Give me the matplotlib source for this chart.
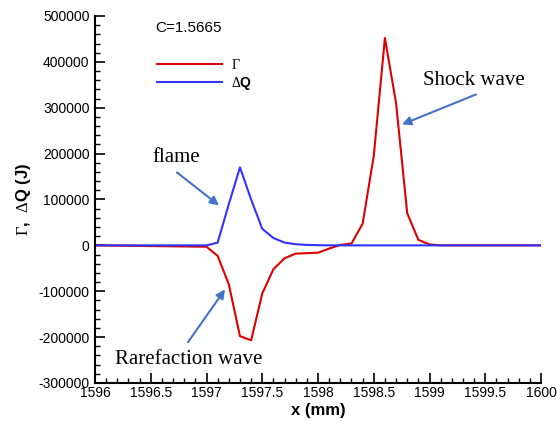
import matplotlib
matplotlib.use("Agg")
import matplotlib.pyplot as plt
from matplotlib.ticker import MultipleLocator

# ==========================================
# Data
# ==========================================
x_mm = [1596.0, 1597.0, 1597.1, 1597.2, 1597.3, 1597.4, 1597.5, 1597.6,
        1597.7, 1597.8, 1597.9, 1598.0, 1598.1, 1598.2, 1598.3, 1598.4,
        1598.5, 1598.6, 1598.7, 1598.8, 1598.9, 1599.0, 1599.1, 1600.0]

gamma = [0, -3000, -23000, -85000, -198000, -207000, -105000, -52000,
         -28000, -18000, -17000, -16000, -7000, 1000, 4000, 47000,
         195000, 452000, 310000, 70000, 12000, 2000, 0, 0]

delta_q = [0, 0, 6000, 90000, 170000, 100000, 36000, 16000,
           6000, 2500, 1000, 400, 0, 0, 0, 0,
           0, 0, 0, 0, 0, 0, 0, 0]

y_ticks = [-300000, -200000, -100000, 0, 100000, 200000, 300000, 400000, 500000]
x_ticks = [1596, 1596.5, 1597, 1597.5, 1598, 1598.5, 1599, 1599.5, 1600]
x_tick_labels = ["1596", "1596.5", "1597", "1597.5", "1598", "1598.5", "1599", "1599.5", "1600"]

# ==========================================
# Fonts: Arial-like sans, Times-like serif for Greek letters
# ==========================================
plt.rcParams['font.family'] = ['Liberation Sans', 'DejaVu Sans']
plt.rcParams['mathtext.fontset'] = 'custom'
plt.rcParams['mathtext.rm'] = 'Liberation Serif'
plt.rcParams['mathtext.it'] = 'Liberation Serif:italic'
plt.rcParams['mathtext.bf'] = 'Liberation Sans:bold'

fig = plt.figure(figsize=(5.57, 4.21), dpi=100)
ax = fig.add_axes([0.1706, 0.0903, 0.8007, 0.8717])

ax.plot(x_mm, gamma, color='#DD0000', lw=1.5, label=r'$\Gamma$')
ax.plot(x_mm, delta_q, color='#3333FF', lw=1.5, label=r'$\Delta\mathbf{Q}$')

ax.set_xlim(1596, 1600)
ax.set_ylim(-300000, 500000)
ax.set_xticks(x_ticks)
ax.set_xticklabels(x_tick_labels)
ax.set_yticks(y_ticks)
ax.set_yticklabels([str(v) for v in y_ticks])
ax.xaxis.set_minor_locator(MultipleLocator(0.1))
ax.yaxis.set_minor_locator(MultipleLocator(20000))

for side in ['top', 'right']:
    ax.spines[side].set_visible(False)
for side in ['left', 'bottom']:
    ax.spines[side].set_linewidth(1.5)

ax.tick_params(which='major', direction='in', length=7, width=1.2, labelsize=10, pad=4)
ax.tick_params(which='minor', direction='in', length=3.5, width=1.0)
ax.tick_params(axis='x', which='major', pad=2)

ax.set_xlabel('x (mm)', fontsize=12, fontweight='bold', labelpad=2)
ax.set_ylabel(r'$\Gamma$,  $\Delta\mathbf{Q}$ (J)', fontsize=12, fontweight='bold', labelpad=4)

ax.text(0.1345, 0.967, 'C=1.5665', transform=ax.transAxes, fontsize=11,
        ha='left', va='center')

ax.legend(loc='upper left', bbox_to_anchor=(0.139, 0.886), frameon=False,
          fontsize=10, handlelength=4.7, handletextpad=0.65, labelspacing=0.25,
          borderpad=0, borderaxespad=0)

# annotations
serif = ['Liberation Serif', 'DejaVu Serif']
arrow_kw = dict(arrowstyle='-|>', color='#4472C4', lw=1.5, mutation_scale=13,
                shrinkA=0, shrinkB=0)

ax.text(1596.726, 191700, 'flame', family=serif, fontsize=15, ha='center', va='center')
ax.annotate('', xy=(1597.112, 87000), xytext=(1596.735, 159000), arrowprops=arrow_kw)

ax.text(1599.40, 359000, 'Shock wave', family=serif, fontsize=15, ha='center', va='center')
ax.annotate('', xy=(1598.753, 263600), xytext=(1599.417, 329000), arrowprops=arrow_kw)

ax.text(1596.843, -248000, 'Rarefaction wave', family=serif, fontsize=15, ha='center', va='center')
ax.annotate('', xy=(1597.166, -96000), xytext=(1596.834, -211000), arrowprops=arrow_kw)

plt.savefig('out.png', dpi=100)
